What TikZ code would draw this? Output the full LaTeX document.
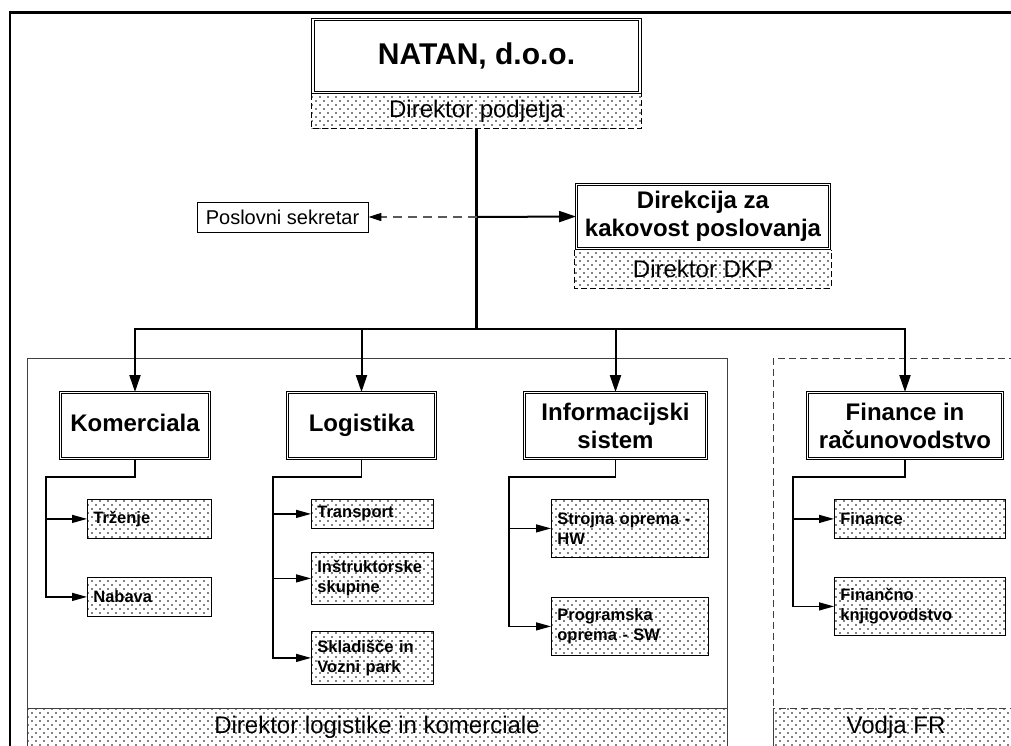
\documentclass[tikz,border=0pt]{standalone}
\usepackage{fontspec}
\setmainfont{Liberation Sans}
\usetikzlibrary{arrows.meta,patterns}

\pgfdeclarepatternformonly{finedots}{\pgfqpoint{-1pt}{-1pt}}{\pgfqpoint{7pt}{7pt}}{\pgfqpoint{8pt}{8pt}}{%
  \pgfpathcircle{\pgfqpoint{0pt}{0pt}}{0.8pt}
  \pgfpathcircle{\pgfqpoint{4pt}{4pt}}{0.8pt}
  \pgfusepath{fill}}

\begin{document}
\begin{tikzpicture}[x=1pt,y=-1pt,
    headbox/.style={draw, double, double distance=1.5pt, line width=0.9pt, align=center, inner sep=0pt, font=\bfseries\fontsize{24}{28}\selectfont},
    dotbox/.style={pattern=finedots, inner sep=0pt, font=\fontsize{24}{28}\selectfont},
    subbox/.style={draw, line width=0.8pt, pattern=finedots, anchor=north west, inner xsep=6pt, inner ysep=0pt, align=left, font=\bfseries\fontsize{16.5}{20}\selectfont},
    mainarr/.style={line width=2pt, -{Triangle[length=17pt,width=11pt]}},
    subarr/.style={line width=1.3pt, -{Triangle[length=15pt,width=8pt]}}]
\useasboundingbox (0,0) rectangle (1011,745);
\clip (0,0) rectangle (1011,745);
\draw[line width=2.5pt] (10,12.5) rectangle (1040,800);

\draw[black!75, line width=1pt] (27,358) rectangle (727,800);
\draw[black!75, line width=1pt, dash pattern=on 7pt off 4pt] (773,358) rectangle (1019,800);
\node[dotbox, draw=black!75, line width=1pt, minimum width=700, minimum height=38] (dlk) at (377,727) {Direktor logistike in komerciale};
\node[dotbox, draw=black!75, line width=1pt, dash pattern=on 7pt off 4pt, minimum width=246, minimum height=38] (vfr) at (896,727) {Vodja FR};

\node[dotbox, minimum width=330, minimum height=34] (podjetja) at (476.5,111) {Direktor podjetja};
\draw[line width=0.8pt, dash pattern=on 6pt off 3pt] (podjetja.north west) -- (podjetja.south west) -- (podjetja.south east) -- (podjetja.north east);
\node[headbox, font=\bfseries\fontsize{30}{34}\selectfont, minimum width=327, minimum height=73] (natan) at (476.5,56) {NATAN, d.o.o.};

\node[dotbox, minimum width=256, minimum height=38] (dkp) at (703,269) {Direktor DKP};
\draw[line width=0.8pt, dash pattern=on 6pt off 3pt] (dkp.north west) -- (dkp.south west) -- (dkp.south east) -- (dkp.north east);
\node[headbox, minimum width=253, minimum height=64] (direkcija) at (703,216.5) {Direkcija za\\kakovost poslovanja};

\node[draw, line width=0.8pt, inner sep=0pt, minimum width=171, minimum height=30, font=\fontsize{20}{24}\selectfont] (sekretar) at (282.5,217) {Poslovni sekretar};

\coordinate (split) at (476.5,217);
\coordinate (bus) at (476.5,329);
\draw[line width=2.2pt] (podjetja.south) -- (bus);
\draw[mainarr] (split) -- (direkcija.west);
\draw[black!65, line width=1.4pt, dash pattern=on 9pt off 6pt, -{Triangle[length=13pt,width=8pt,color=black]}] (split) -- (sekretar.east);

\foreach \n/\x/\w/\t in {komerciala/135/149/Komerciala\vphantom{g}, logistika/361.5/148/Logistika, infosys/615.5/182/{Informacijski\\sistem}, finrac/905/195/{Finance in\\računovodstvo}}
{
  \node[headbox, minimum width=\w, minimum height=66] (\n) at (\x,425.5) {\t};
  \draw[mainarr] (bus) -| (\n.north);
}

\foreach \n/\x/\y/\tw/\h/\t in {trzenje/87/499/112/39/Trženje, nabava/87/577/112/39/Nabava,
    transport/311/499/110/29/Transport, instrukt/311/552/110/52/{Inštruktorske\\skupine}, skladisce/311/631/110/53/{Skladišče in\\Vozni park},
    strojna/551/499/145/58/{Strojna oprema -\\HW}, programska/551/597/145/58/{Programska\\oprema - SW},
    finance/834/499/159/39/Finance, knjigovodstvo/834/577/159/58/{Finančno\\knjigovodstvo}}
  \node[subbox, text width=\tw, minimum height=\h] (\n) at (\x,\y) {\t};

\foreach \h/\s/\d in {komerciala/trzenje/41, logistika/transport/38, infosys/strojna/42, finrac/finance/41}
  \draw[subarr] (\h.south) -- ++(0,18) -| ([xshift=-\d pt]\s.west) -- (\s.west);
\foreach \s/\t/\d in {trzenje/nabava/41, transport/instrukt/38, transport/skladisce/38, strojna/programska/42, finance/knjigovodstvo/41}
  \draw[subarr] ([xshift=-\d pt]\s.west) |- (\t.west);
\end{tikzpicture}
\end{document}
